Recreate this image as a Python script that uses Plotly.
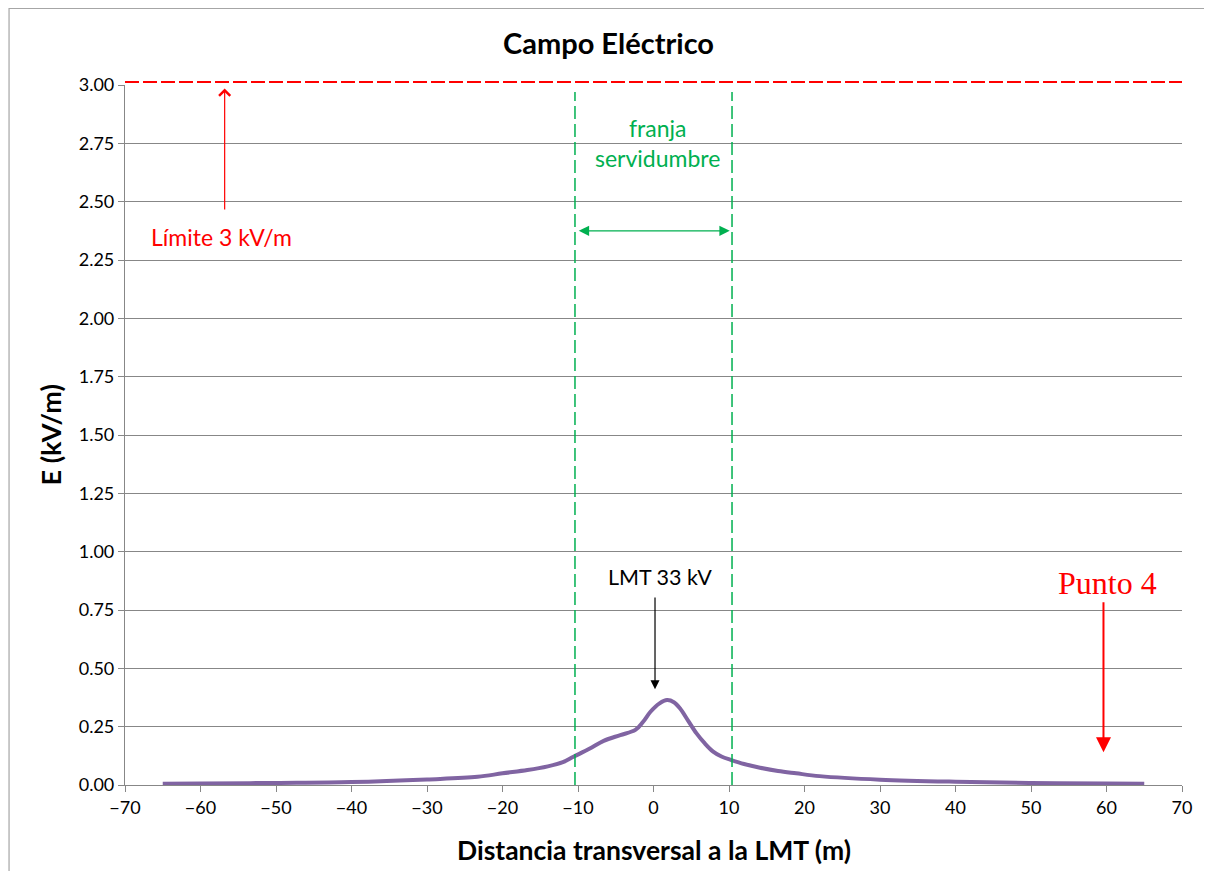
import plotly.graph_objects as go

# Electric field profile across the line
dist_m = [-65, -60, -50, -40, -30, -23.3, -20, -16.7, -14, -12, -10.6, -8.5, -6.6,
          -4.4, -2.4, -1.4, -0.4, 0.8, 1.8, 2.7, 3.5, 4.6, 5.7, 6.8, 7.9, 9.0,
          10.3, 12, 14.1, 16.5, 18.9, 22, 30, 40, 50, 60, 65]
e_kvm = [0.005, 0.006, 0.009, 0.013, 0.024, 0.035, 0.05, 0.064, 0.08, 0.098, 0.121,
         0.155, 0.189, 0.214, 0.236, 0.27, 0.314, 0.35, 0.364, 0.355, 0.329, 0.275,
         0.221, 0.178, 0.143, 0.122, 0.107, 0.09, 0.074, 0.06, 0.05, 0.038, 0.023,
         0.014, 0.009, 0.006, 0.005]

limit_kvm = 3.013
strip_edges = [-10.4, 10.4]
x_ticks = list(range(-70, 71, 10))
y_ticks = [i * 0.25 for i in range(13)]

font = "Lato, 'Open Sans', sans-serif"

fig = go.Figure()

# field curve
fig.add_trace(go.Scatter(
    x=dist_m, y=e_kvm, mode="lines", line_shape="spline",
    line=dict(color="#8064A2", width=4), hoverinfo="skip"
))

# limit line (slightly above the top of the axis, so drawn in paper coords)
fig.add_shape(type="line", xref="paper", yref="paper", x0=0, x1=1,
              y0=limit_kvm / 3, y1=limit_kvm / 3,
              line=dict(color="#FF0000", width=2, dash="14px,4px"))

# right-of-way strip edges
for xe in strip_edges:
    fig.add_shape(type="line", x0=xe, x1=xe, y0=0, y1=2.97, xref="x", yref="y",
                  line=dict(color="#00B050", width=1.5, dash="13px,5px"))

# outer border (left and top edges visible)
fig.add_shape(type="rect", xref="paper", yref="paper",
              x0=-0.1097, x1=1.05, y0=-0.2, y1=1.1093,
              line=dict(color="#A6A6A6", width=1.2), layer="below")

annotations = [
    dict(text="<b>Campo Eléctrico</b>", x=0.4576, y=1.06, xref="paper", yref="paper",
         xanchor="center", yanchor="middle", showarrow=False,
         font=dict(size=29, color="black", family=font)),
    dict(text="<b>Distancia transversal a la LMT (m)</b>", x=0.5, y=-0.093,
         xref="paper", yref="paper", xanchor="center", yanchor="middle",
         showarrow=False, font=dict(size=26.5, color="black", family=font)),
    dict(text="<b>E (kV/m)</b>", x=-0.0706, y=0.5, xref="paper", yref="paper",
         xanchor="center", yanchor="middle", textangle=-90, showarrow=False,
         font=dict(size=27, color="black", family=font)),
    # limit label + arrow
    dict(text="Límite 3 kV/m", x=-57.2, y=2.35, xref="x", yref="y", showarrow=False,
         font=dict(size=23, color="#FF0000", family=font)),
    dict(x=-56.8, y=2.985, ax=-56.8, ay=2.46, xref="x", yref="y", axref="x", ayref="y",
         text="", showarrow=True, arrowhead=4, arrowsize=1.8, arrowwidth=1.2,
         arrowcolor="#FF0000"),
    # strip label + double arrow
    dict(text="franja<br>servidumbre", x=0.5, y=2.75, xref="x", yref="y",
         showarrow=False, font=dict(size=23, color="#00B050", family=font)),
    dict(x=10.1, y=2.375, ax=-10.1, ay=2.375, xref="x", yref="y", axref="x", ayref="y",
         text="", showarrow=True, arrowhead=2, startarrowhead=2, arrowside="end+start",
         arrowsize=1.6, startarrowsize=1.6, arrowwidth=1.3, arrowcolor="#00B050"),
    # LMT label + arrow
    dict(text="LMT 33 kV", x=0.8, y=0.89, xref="x", yref="y", showarrow=False,
         font=dict(size=21.5, color="black", family=font)),
    dict(x=0.2, y=0.41, ax=0.2, ay=0.81, xref="x", yref="y", axref="x", ayref="y",
         text="", showarrow=True, arrowhead=2, arrowsize=1.5, arrowwidth=1.2,
         arrowcolor="black"),
    # Punto 4 label + arrow
    dict(text="Punto 4", x=60.1, y=0.865, xref="x", yref="y", showarrow=False,
         font=dict(size=32, color="#FF0000", family="'Liberation Serif', serif")),
    dict(x=59.6, y=0.14, ax=59.6, ay=0.79, xref="x", yref="y", axref="x", ayref="y",
         text="", showarrow=True, arrowhead=2, arrowsize=1.5, arrowwidth=2,
         arrowcolor="#FF0000"),
]

# page body has an 8px margin, so the figure is shrunk/shifted to compensate
fig.update_layout(
    width=1196, height=863,
    margin=dict(l=117, r=12, t=77, b=86),
    paper_bgcolor="white", plot_bgcolor="white",
    showlegend=False,
    font=dict(family=font, size=18, color="black"),
    annotations=annotations,
    xaxis=dict(range=[-70, 70], tickvals=x_ticks, showgrid=False, zeroline=False,
               showline=True, linecolor="#878787", linewidth=1.2,
               ticks="outside", ticklen=6, tickcolor="#878787",
               tickfont=dict(size=18, family=font)),
    yaxis=dict(range=[0, 3], tickvals=y_ticks, tickformat=".2f", showgrid=True,
               gridcolor="#878787", gridwidth=1.2, zeroline=False,
               showline=True, linecolor="#878787", linewidth=1.2,
               ticks="outside", ticklen=6, tickcolor="#878787",
               tickfont=dict(size=18, family=font)),
)

fig.write_html("out.html")
